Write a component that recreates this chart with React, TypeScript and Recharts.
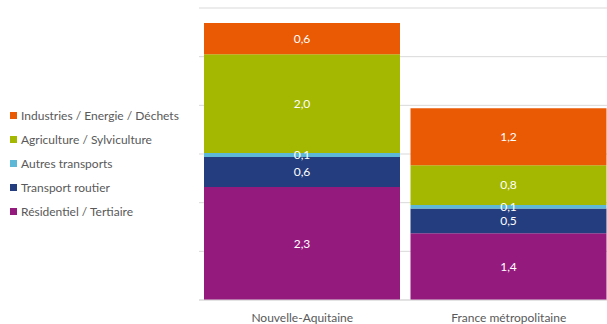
import { BarChart, Bar, XAxis, YAxis, CartesianGrid, Legend, LabelList } from "recharts";

const regions = ["Nouvelle-Aquitaine", "France métropolitaine"];
const residentiel = [2.32, 1.37];
const routier = [0.62, 0.51];
const autres = [0.08, 0.07];
const agriculture = [2.03, 0.82];
const industries = [0.64, 1.17];
const yTicks = [0, 1, 2, 3, 4, 5, 6];

const series = [
  { key: "residentiel", name: "Résidentiel / Tertiaire", color: "#951a7e", values: residentiel },
  { key: "routier", name: "Transport routier", color: "#233d7e", values: routier },
  { key: "autres", name: "Autres transports", color: "#5cb8d6", values: autres },
  { key: "agriculture", name: "Agriculture / Sylviculture", color: "#a5b801", values: agriculture },
  { key: "industries", name: "Industries / Energie / Déchets", color: "#ea5a05", values: industries },
];

const data = regions.map((name, i) => {
  const row: Record<string, string | number> = { name };
  series.forEach((s) => {
    row[s.key] = s.values[i];
  });
  return row;
});

const fmt = (v: any) => Number(v).toFixed(1).replace(".", ",");

const LegendBox = () => (
  <div style={{ fontFamily: "Lato, sans-serif", fontSize: 12, color: "#595959" }}>
    {[...series].reverse().map((s) => (
      <div key={s.key} style={{ display: "flex", alignItems: "center", height: 24 }}>
        <span style={{ width: 7, height: 7, background: s.color, marginRight: 4, display: "inline-block" }} />
        <span>{s.name}</span>
      </div>
    ))}
  </div>
);

export default function App() {
  return (
    <div style={{ position: "absolute", left: 0, top: 0, width: 607, height: 324, overflow: "hidden", background: "#fff" }}>
      <BarChart
        width={612}
        height={324}
        data={data}
        margin={{ top: 8, right: 0, left: 199, bottom: 0 }}
      >
        <CartesianGrid vertical={false} stroke="#d9d9d9" />
        <XAxis
          dataKey="name"
          height={24}
          tickLine={false}
          axisLine={{ stroke: "#d9d9d9" }}
          tickMargin={7}
          tick={{ fill: "#595959", fontSize: 12, fontFamily: "Lato, sans-serif" }}
        />
        <YAxis hide domain={[0, 6]} ticks={yTicks} />
        <Legend
          verticalAlign="middle"
          align="center"
          layout="horizontal"
          wrapperStyle={{ left: 10, top: 103, width: 190 }}
          content={() => <LegendBox />}
        />
        {series.map((s) => (
          <Bar key={s.key} dataKey={s.key} name={s.name} stackId="a" fill={s.color} barSize={196} isAnimationActive={false}>
            <LabelList
              dataKey={s.key}
              position="center"
              formatter={fmt}
              fill="#ffffff"
              fontSize={12}
              fontFamily="Lato, sans-serif"
            />
          </Bar>
        ))}
      </BarChart>
    </div>
  );
}
